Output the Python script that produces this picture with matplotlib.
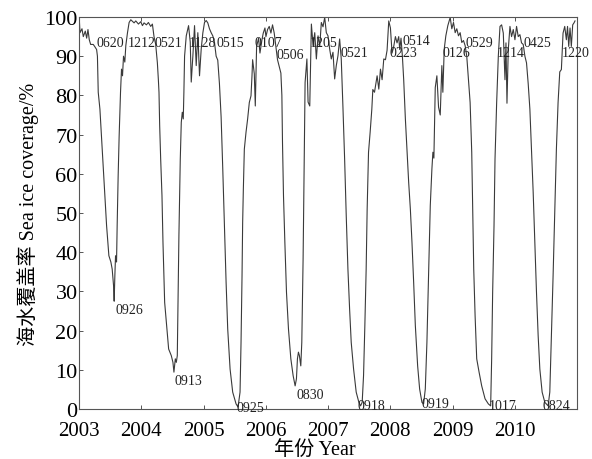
import matplotlib
matplotlib.use("Agg")
import matplotlib.pyplot as plt

plt.rcParams['font.family'] = ['Liberation Serif', 'Noto Sans CJK SC', 'DejaVu Sans']

# time in decimal years
t_year = [
    2003.005, 2003.016, 2003.048, 2003.069, 2003.101, 2003.123, 2003.144, 2003.165, 2003.187, 2003.229,
    2003.251, 2003.283, 2003.296, 2003.309, 2003.336, 2003.363, 2003.405, 2003.443, 2003.480, 2003.512,
    2003.533, 2003.555, 2003.565, 2003.576, 2003.587, 2003.603, 2003.613, 2003.629, 2003.645, 2003.667,
    2003.683, 2003.699, 2003.715, 2003.736, 2003.752, 2003.779, 2003.805, 2003.832, 2003.885, 2003.912,
    2003.955, 2003.992, 2004.019, 2004.045, 2004.083, 2004.115, 2004.152, 2004.179, 2004.205, 2004.232,
    2004.259, 2004.275, 2004.285, 2004.296, 2004.312, 2004.333, 2004.349, 2004.376, 2004.403, 2004.440,
    2004.483, 2004.509, 2004.525, 2004.547, 2004.563, 2004.579, 2004.589, 2004.605, 2004.627, 2004.643,
    2004.659, 2004.675, 2004.685, 2004.696, 2004.723, 2004.760, 2004.787, 2004.803, 2004.829, 2004.856,
    2004.883, 2004.909, 2004.936, 2004.963, 2004.989, 2005.016, 2005.043, 2005.069, 2005.096, 2005.123,
    2005.149, 2005.176, 2005.203, 2005.229, 2005.256, 2005.283, 2005.309, 2005.336, 2005.363, 2005.389,
    2005.427, 2005.469, 2005.523, 2005.555, 2005.587, 2005.603, 2005.619, 2005.629, 2005.640, 2005.656,
    2005.683, 2005.709, 2005.736, 2005.763, 2005.779, 2005.789, 2005.816, 2005.832, 2005.853, 2005.885,
    2005.907, 2005.939, 2005.960, 2005.987, 2006.003, 2006.029, 2006.056, 2006.083, 2006.109, 2006.136,
    2006.163, 2006.189, 2006.216, 2006.243, 2006.259, 2006.269, 2006.285, 2006.307, 2006.333, 2006.365,
    2006.403, 2006.440, 2006.472, 2006.493, 2006.509, 2006.525, 2006.541, 2006.563, 2006.579, 2006.600,
    2006.616, 2006.627, 2006.632, 2006.661, 2006.680, 2006.707, 2006.733, 2006.760, 2006.787, 2006.813,
    2006.840, 2006.867, 2006.893, 2006.920, 2006.947, 2006.973, 2007.000, 2007.027, 2007.053, 2007.080,
    2007.107, 2007.133, 2007.160, 2007.187, 2007.213, 2007.240, 2007.267, 2007.293, 2007.320, 2007.347,
    2007.373, 2007.411, 2007.453, 2007.496, 2007.523, 2007.549, 2007.571, 2007.592, 2007.613, 2007.629,
    2007.651, 2007.677, 2007.704, 2007.720, 2007.747, 2007.789, 2007.816, 2007.843, 2007.869, 2007.896,
    2007.923, 2007.949, 2007.976, 2008.003, 2008.029, 2008.056, 2008.083, 2008.109, 2008.136, 2008.152,
    2008.173, 2008.195, 2008.216, 2008.243, 2008.269, 2008.296, 2008.323, 2008.349, 2008.376, 2008.403,
    2008.440, 2008.472, 2008.509, 2008.536, 2008.563, 2008.589, 2008.616, 2008.643, 2008.669, 2008.685,
    2008.701, 2008.723, 2008.749, 2008.776, 2008.803, 2008.829, 2008.845, 2008.867, 2008.893, 2008.925,
    2008.963, 2008.989, 2009.016, 2009.043, 2009.069, 2009.096, 2009.123, 2009.149, 2009.176, 2009.203,
    2009.229, 2009.256, 2009.283, 2009.309, 2009.325, 2009.341, 2009.363, 2009.389, 2009.427, 2009.469,
    2009.523, 2009.576, 2009.613, 2009.629, 2009.645, 2009.667, 2009.683, 2009.709, 2009.736, 2009.763,
    2009.789, 2009.816, 2009.843, 2009.859, 2009.875, 2009.896, 2009.923, 2009.949, 2009.976, 2010.003,
    2010.029, 2010.056, 2010.083, 2010.109, 2010.136, 2010.163, 2010.189, 2010.216, 2010.243, 2010.269,
    2010.296, 2010.323, 2010.349, 2010.376, 2010.403, 2010.440, 2010.483, 2010.536, 2010.563, 2010.589,
    2010.616, 2010.643, 2010.669, 2010.696, 2010.723, 2010.749, 2010.776, 2010.803, 2010.829, 2010.848,
    2010.867, 2010.888, 2010.909, 2010.931, 2010.952, 2010.968,
]

# sea ice coverage (%)
coverage = [
    99.3, 96.0, 97.0, 95.0, 96.4, 94.6, 96.8, 94.2, 93.0, 93.0,
    92.5, 91.7, 90.0, 80.8, 76.5, 68.9, 57.0, 46.8, 39.1, 37.5,
    35.7, 31.5, 27.5, 34.0, 39.1, 37.5, 46.8, 59.5, 69.7, 80.8,
    86.7, 85.0, 90.0, 88.5, 92.7, 96.0, 98.6, 99.3, 98.5, 99.0,
    98.2, 98.8, 97.8, 98.5, 98.0, 98.6, 97.6, 98.2, 95.0, 93.0,
    88.3, 84.0, 80.8, 72.3, 63.8, 54.4, 42.5, 27.2, 22.1, 15.3,
    13.6, 11.9, 9.4, 12.8, 11.9, 13.6, 25.5, 44.2, 63.8, 73.1,
    75.7, 74.0, 80.8, 90.0, 95.2, 97.8, 93.6, 83.4, 90.0, 97.8,
    87.6, 96.0, 85.0, 91.8, 95.9, 98.6, 99.1, 98.5, 97.0, 96.0,
    95.2, 93.6, 90.0, 89.0, 83.0, 74.5, 61.5, 46.8, 32.3, 20.4,
    10.2, 4.3, 1.3, 0.5, 4.3, 17.0, 34.0, 47.6, 56.0, 66.3,
    70.6, 74.0, 78.2, 79.9, 85.0, 89.1, 85.5, 77.3, 92.5, 94.6,
    90.8, 94.2, 95.9, 97.2, 95.0, 96.8, 97.6, 95.9, 98.0, 95.9,
    92.5, 89.1, 87.4, 85.7, 80.0, 68.0, 54.4, 42.5, 29.8, 20.4,
    12.8, 8.5, 5.9, 7.7, 12.8, 14.5, 13.6, 11.0, 17.0, 38.3,
    60.0, 77.0, 83.3, 89.3, 78.3, 77.3, 98.2, 92.7, 96.0, 89.3,
    95.2, 92.5, 98.6, 97.5, 99.9, 96.0, 95.2, 91.8, 89.3, 91.0,
    84.2, 87.6, 90.1, 94.4, 89.3, 77.0, 63.8, 49.3, 35.7, 25.5,
    17.0, 10.2, 4.3, 1.7, 0.8, 1.7, 8.5, 21.3, 35.7, 51.0,
    65.5, 70.6, 76.5, 81.5, 80.8, 85.0, 81.6, 86.7, 84.0, 89.3,
    89.1, 91.5, 99.0, 97.2, 90.8, 92.5, 95.0, 93.4, 95.0, 91.7,
    94.6, 90.0, 84.0, 74.0, 66.3, 57.8, 51.0, 42.5, 32.3, 21.3,
    11.0, 5.1, 1.7, 1.3, 5.1, 17.0, 34.0, 51.9, 61.2, 65.5,
    64.0, 82.0, 85.0, 77.0, 75.0, 87.6, 80.8, 91.8, 95.2, 97.8,
    99.9, 97.0, 98.6, 96.0, 97.0, 95.2, 96.0, 93.5, 94.0, 92.7,
    90.0, 84.0, 78.2, 65.5, 51.0, 35.7, 23.8, 12.8, 9.4, 5.9,
    2.6, 1.3, 0.8, 12.8, 29.8, 46.8, 63.8, 78.0, 90.0, 97.6,
    98.0, 95.9, 84.0, 93.4, 78.0, 91.7, 97.6, 95.0, 96.8, 94.2,
    97.6, 95.0, 95.5, 93.4, 93.0, 90.0, 88.3, 83.0, 76.5, 66.3,
    55.3, 42.5, 29.8, 18.7, 10.2, 4.3, 1.7, 0.8, 4.3, 18.7,
    34.0, 51.0, 66.3, 78.2, 86.0, 86.6, 95.9, 97.6, 94.2, 97.6,
    92.5, 97.2, 92.5, 98.0, 98.5, 99.0,
]

# date annotations (MMDD)
ann_labels = ["0620", "1212", "0521", "1128", "0515", "0107", "0506", "1205",
              "0521", "0223", "0514", "0126", "0529", "1214", "0425", "1220",
              "0926", "0913", "0925", "0830", "0918", "0919", "1017", "0824"]
ann_x = [2003.288, 2003.780, 2004.205, 2004.765, 2005.210, 2005.820, 2006.170, 2006.710,
         2007.205, 2007.985, 2008.190, 2008.840, 2009.205, 2009.705, 2010.140, 2010.755,
         2003.580, 2004.535, 2005.530, 2006.490, 2007.480, 2008.500, 2009.575, 2010.440]
ann_y = [93.4, 93.4, 93.4, 93.4, 93.4, 93.4, 90.4, 93.6,
         91.0, 91.0, 94.0, 91.0, 93.6, 91.0, 93.6, 91.0,
         25.3, 7.3, 0.5, 3.6, 1.0, 1.5, 0.8, 0.8]

year_ticks = [2003, 2004, 2005, 2006, 2007, 2008, 2009, 2010]
y_ticks = [0, 10, 20, 30, 40, 50, 60, 70, 80, 90, 100]

fig = plt.figure(figsize=(5.92, 4.60), dpi=100)
ax = fig.add_axes([79 / 592, 50 / 460, 498 / 592, 392 / 460])

ax.plot(t_year, coverage, color="#3a3a3a", linewidth=0.8)

for lab, x, y in zip(ann_labels, ann_x, ann_y):
    ax.text(x, y, lab, fontsize=10, ha="left", va="center", color="#222222",
            clip_on=False)

ax.set_xlim(2003, 2011)
ax.set_ylim(0, 100)
ax.set_xticks(year_ticks)
ax.set_yticks(y_ticks)
ax.tick_params(axis="both", direction="in", length=3, width=0.7, color="#555555",
               top=True, right=False)
ax.tick_params(axis="x", labelsize=15, pad=9)
ax.tick_params(axis="y", labelsize=16, pad=1)
for s in ax.spines.values():
    s.set_color("#555555")
    s.set_linewidth(0.8)

ax.set_xlabel("年份 Year", fontsize=14.5)
ax.xaxis.set_label_coords((315 - 79) / 498, -0.078)
ax.set_ylabel("海水覆盖率 Sea ice coverage/%", fontsize=14.5, labelpad=4)

fig.savefig("out.png", dpi=100)
